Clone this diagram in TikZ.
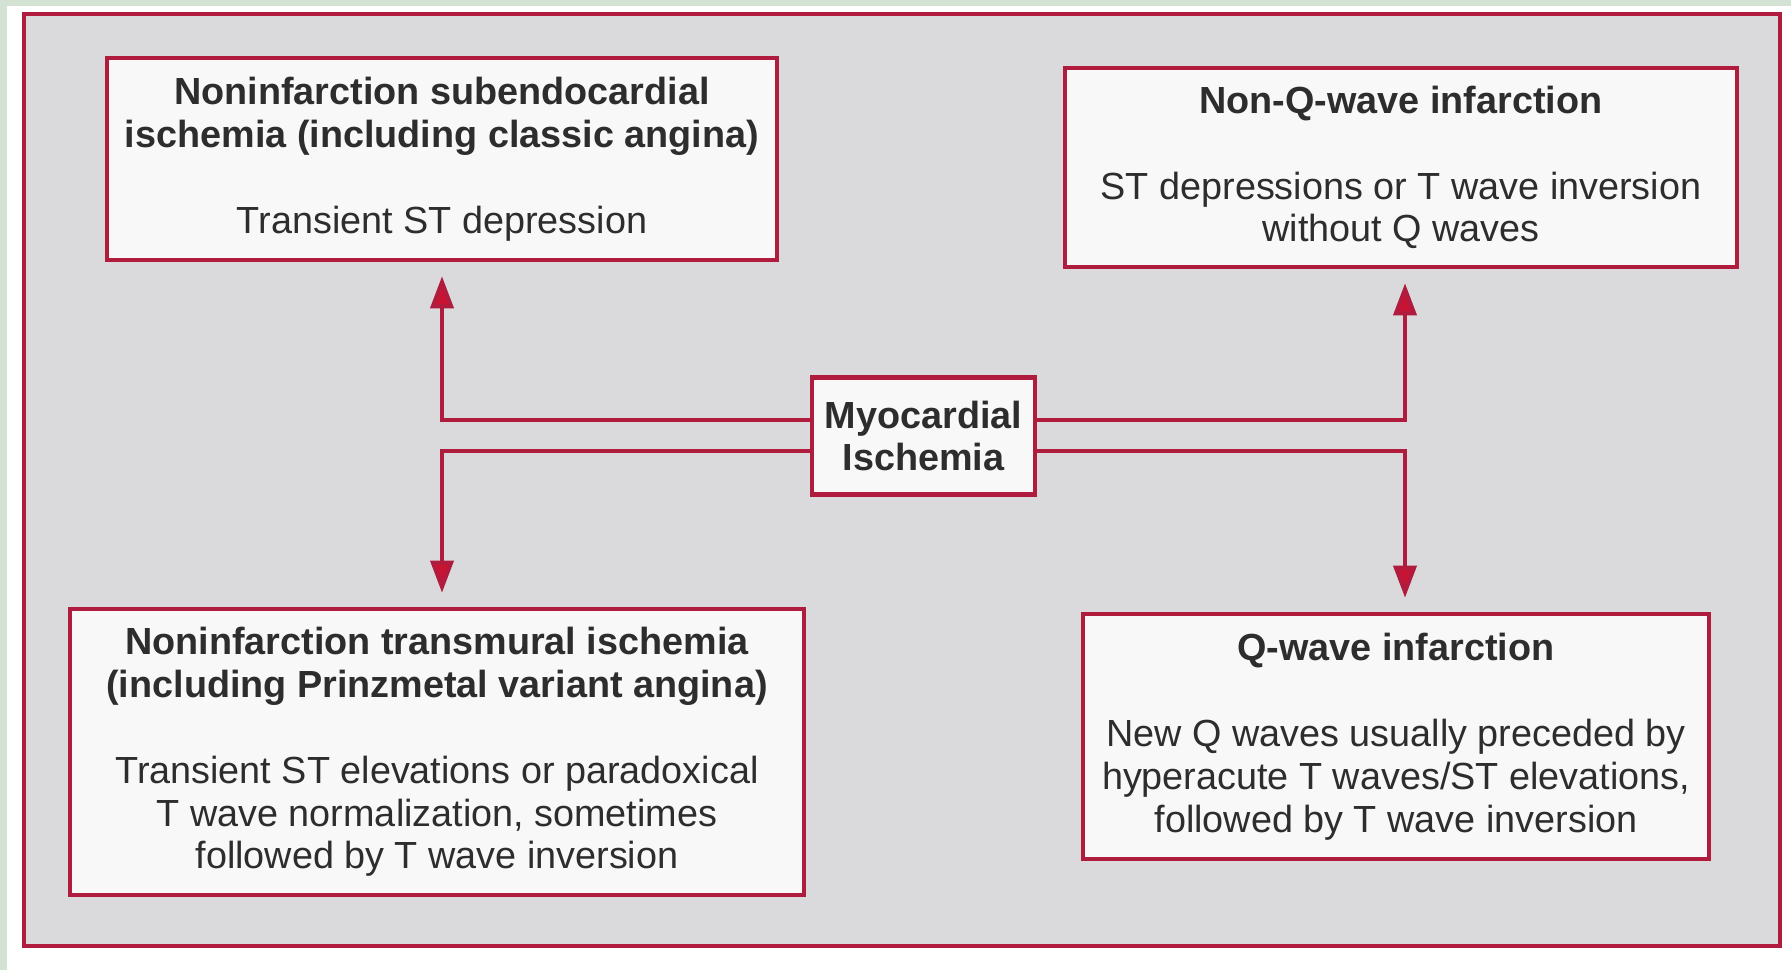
\documentclass[tikz,border=0pt]{standalone}
\usepackage{fontspec}
\setmainfont{Liberation Sans}
\usetikzlibrary{arrows.meta}
\definecolor{frame}{RGB}{176,28,62}
\definecolor{tip}{RGB}{200,20,50}
\definecolor{panel}{RGB}{218,218,221}
\definecolor{paper}{RGB}{249,248,249}
\definecolor{mint}{RGB}{211,226,211}
\definecolor{ink}{RGB}{45,45,45}

\begin{document}
\begin{tikzpicture}[>={Triangle[length=6.4mm,width=4.6mm,fill=tip]},
    box/.style={draw=frame,line width=2.6pt,fill=paper,align=center,inner sep=0pt,
        font=\fontsize{21.5}{24.4}\selectfont,text=ink},
    link/.style={draw=frame,line width=2.2pt,->,shorten >=2.8mm}]
    \useasboundingbox (0,0) rectangle (35.82,19.4);
    \fill[white] (0,0) rectangle (35.82,19.4);
    \fill[mint] (0,0) rectangle (0.14,19.4);
    \fill[mint] (0,19.28) rectangle (35.82,19.4);
    \draw[frame,line width=2.4pt,fill=panel] (0.48,0.48) rectangle (35.6,19.12);

    \node[box,minimum width=13.4cm,minimum height=4.04cm] (sub) at (8.84,16.22)
        {\textbf{Noninfarction subendocardial}\\\textbf{ischemia (including classic angina)}\\[24.4pt]Transient ST depression};
    \node[box,minimum width=13.44cm,minimum height=3.98cm] (nonq) at (28.02,16.05)
        {\textbf{Non-Q-wave infarction}\\[24.4pt]ST depressions or T wave inversion\\without Q waves};
    \node[box,minimum width=4.46cm,minimum height=2.34cm] (isch) at (18.47,10.68)
        {\textbf{Myocardial}\\\textbf{Ischemia}};
    \node[box,minimum width=14.68cm,minimum height=5.72cm] (trans) at (8.74,4.36)
        {\textbf{Noninfarction transmural ischemia}\\\textbf{(including Prinzmetal variant angina)}\\[24.4pt]Transient ST elevations or paradoxical\\T wave normalization, sometimes\\followed by T wave inversion};
    \node[box,minimum width=12.52cm,minimum height=4.9cm] (qwave) at (27.92,4.67)
        {\textbf{Q-wave infarction}\\[24.4pt]New Q waves usually preceded by\\hyperacute T waves/ST elevations,\\followed by T wave inversion};

    \coordinate (up) at ([xshift=0.8mm]nonq.south);
    \draw[link] ([yshift=3.2mm]isch.west) -| (sub.south);
    \draw[link] ([yshift=-3mm]isch.west) -| (sub.south |- trans.north);
    \draw[link] ([yshift=3.2mm]isch.east) -| (up);
    \draw[link] ([yshift=-3mm]isch.east) -| (up |- qwave.north);
\end{tikzpicture}
\end{document}
